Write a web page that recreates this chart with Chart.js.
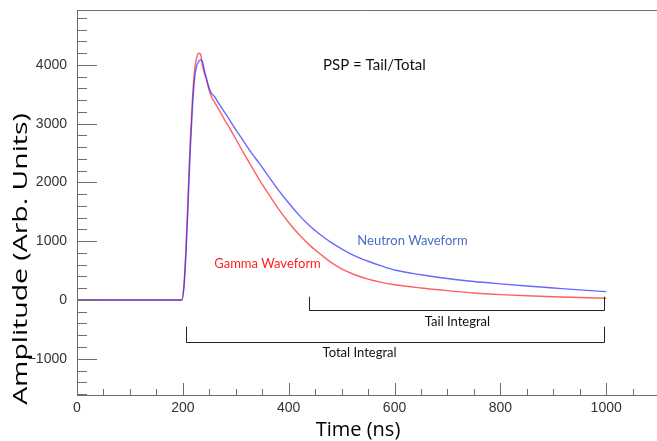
<!DOCTYPE html>
<html>
<head>
<meta charset="utf-8">
<script src="https://cdn.jsdelivr.net/npm/chart.js@4"></script>
<style>
html,body{margin:0;padding:0;background:#fff;}
canvas{display:block;}
</style>
</head>
<body>
<canvas id="c" width="657" height="441"></canvas>
<script>
// ---- data ----
const timeNs     = [0, 195, 198, 202, 206, 210, 214, 218, 222, 226, 230, 233, 237, 241, 245, 250, 254, 257, 260, 270, 280, 290, 300, 315, 330, 345, 360, 380, 400, 420, 440, 460, 480, 500, 525, 550, 575, 600, 650, 700, 750, 800, 850, 900, 950, 1000];
const gammaAmp   = [0, 0, 0, 250, 900, 1800, 2700, 3400, 3900, 4120, 4200, 4190, 4000, 3850, 3740, 3560, 3460, 3410, 3365, 3210, 3050, 2900, 2740, 2500, 2270, 2040, 1830, 1560, 1320, 1110, 930, 780, 640, 530, 430, 355, 300, 260, 205, 160, 120, 92, 72, 56, 42, 30];
const neutronAmp = [0, 0, 0, 200, 800, 1650, 2550, 3250, 3750, 3980, 4060, 4085, 4060, 3900, 3760, 3600, 3520, 3490, 3460, 3315, 3180, 3040, 2900, 2700, 2500, 2320, 2130, 1880, 1650, 1440, 1260, 1110, 980, 870, 750, 660, 580, 510, 430, 365, 315, 275, 238, 205, 172, 142];

const xTickValues = [0, 200, 400, 600, 800, 1000];
const yTickValues = [-1000, 0, 1000, 2000, 3000, 4000];

const seriesNames = ["Gamma Waveform", "Neutron Waveform"];
const xAxisTitle = "Time (ns)";
const yAxisTitle = "Amplitude (Arb. Units)";

// annotation texts and their anchor points (data coordinates)
const noteTexts = ["PSP = Tail/Total", "Neutron Waveform", "Gamma Waveform", "Tail Integral", "Total Integral"];
const noteX     = [562, 634, 360, 719, 534];
const noteY     = [4000, 1010, 613, -370, -900];
const noteColors = ["#111111", "#4a6cc4", "#ff2020", "#111111", "#111111"];

// brackets: [start time, end time, base level, tip level]
const tailBracket  = [438, 996, -170, 56];
const totalBracket = [206, 996, -710, -454];

const X_MIN = 0, X_MAX = 1096, Y_MIN = -1617, Y_MAX = 4936;

const frameAndNotes = {
  id: 'frameAndNotes',
  afterDraw(chart) {
    const ctx = chart.ctx;
    const xs = chart.scales.x, ys = chart.scales.y;
    const a = chart.chartArea;
    ctx.save();
    // frame
    ctx.strokeStyle = '#6e6e6e';
    ctx.lineWidth = 1;
    ctx.beginPath();
    ctx.moveTo(a.left + 0.5, a.top + 0.5);
    ctx.lineTo(a.right + 5, a.top + 0.5);
    ctx.moveTo(a.left + 0.5, a.top);
    ctx.lineTo(a.left + 0.5, a.bottom + 0.5);
    ctx.moveTo(a.left, a.bottom + 0.5);
    ctx.lineTo(a.right + 5, a.bottom + 0.5);
    ctx.stroke();
    // y ticks (inside)
    ctx.beginPath();
    for (let v = -1600; v <= 4800; v += 200) {
      const py = Math.round(ys.getPixelForValue(v)) + 0.5;
      const len = (v % 1000 === 0) ? 20 : 10;
      ctx.moveTo(a.left, py);
      ctx.lineTo(a.left + len, py);
    }
    // x ticks (inside)
    for (let v = 0; v <= 1090; v += 50) {
      const px = Math.round(xs.getPixelForValue(v)) + 0.5;
      const len = (v % 200 === 0) ? 12 : 6;
      ctx.moveTo(px, a.bottom);
      ctx.lineTo(px, a.bottom - len);
    }
    ctx.stroke();

    // brackets
    ctx.strokeStyle = '#222';
    ctx.lineWidth = 1;
    [tailBracket, totalBracket].forEach(b => {
      const x1 = Math.round(xs.getPixelForValue(b[0])) + 0.5;
      const x2 = Math.round(xs.getPixelForValue(b[1])) + 0.5;
      const yb = Math.round(ys.getPixelForValue(b[2])) + 0.5;
      const yt = ys.getPixelForValue(b[3]);
      ctx.beginPath();
      ctx.moveTo(x1, yt); ctx.lineTo(x1, yb); ctx.lineTo(x2, yb); ctx.lineTo(x2, yt);
      ctx.stroke();
    });

    // notes
    ctx.textAlign = 'center';
    ctx.textBaseline = 'middle';
    noteTexts.forEach((t, i) => {
      ctx.fillStyle = noteColors[i];
      ctx.font = (i === 0 ? '15px' : '13px') + ' Lato, "Open Sans", sans-serif';
      ctx.fillText(t, xs.getPixelForValue(noteX[i]), ys.getPixelForValue(noteY[i]));
    });

    // axis titles
    ctx.fillStyle = '#000';
    ctx.font = '20px "Open Sans", Lato, sans-serif';
    ctx.fillText(xAxisTitle, 358, 430);
    ctx.save();
    ctx.translate(21, 259);
    ctx.rotate(-Math.PI / 2);
    ctx.scale(1.42, 1);
    ctx.fillText(yAxisTitle, 0, 0);
    ctx.restore();
    ctx.restore();
  }
};

const toPoints = arr => arr.map((v, i) => ({ x: timeNs[i], y: v }));

new Chart(document.getElementById('c'), {
  type: 'line',
  data: {
    datasets: [
      { label: seriesNames[1], data: toPoints(neutronAmp), borderColor: 'rgba(40,40,255,0.7)', borderWidth: 1.4, pointRadius: 0, cubicInterpolationMode: 'monotone', fill: false },
      { label: seriesNames[0], data: toPoints(gammaAmp), borderColor: 'rgba(255,30,30,0.7)', borderWidth: 1.4, pointRadius: 0, cubicInterpolationMode: 'monotone', fill: false }
    ]
  },
  options: {
    responsive: false,
    animation: false,
    devicePixelRatio: 1,
    layout: { padding: { top: 10, right: 0, left: 0, bottom: 0 } },
    plugins: { legend: { display: false }, tooltip: { enabled: false } },
    scales: {
      x: {
        type: 'linear', min: X_MIN, max: X_MAX,
        grid: { display: false, drawTicks: false },
        border: { display: false },
        afterBuildTicks: s => { s.ticks = xTickValues.map(v => ({ value: v })); },
        afterFit: s => { s.height = 46; s.paddingLeft = 0; s.paddingRight = 0; },
        ticks: { padding: 5, color: '#333', font: { family: '"Liberation Sans", Arial, sans-serif', size: 14 }, maxRotation: 0, autoSkip: false, callback: v => String(v) }
      },
      y: {
        type: 'linear', min: Y_MIN, max: Y_MAX,
        grid: { display: false, drawTicks: false },
        border: { display: false },
        afterBuildTicks: s => { s.ticks = yTickValues.map(v => ({ value: v })); },
        afterFit: s => { s.width = 77; s.paddingTop = 0; s.paddingBottom = 0; },
        ticks: { padding: 10, color: '#333', font: { family: '"Liberation Sans", Arial, sans-serif', size: 14 }, autoSkip: false, callback: v => (v < 0 ? '\u2212' + Math.abs(v) : String(v)) }
      }
    }
  },
  plugins: [frameAndNotes]
});
</script>
</body>
</html>
